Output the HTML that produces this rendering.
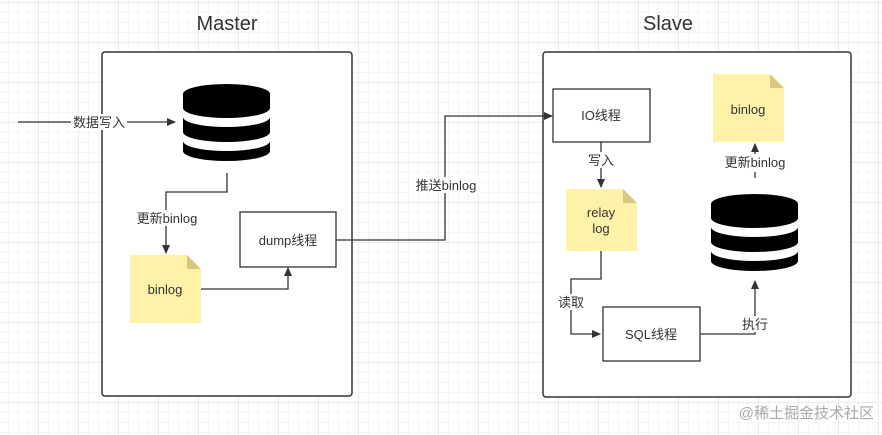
<!DOCTYPE html><html><head><meta charset="utf-8"><style>
html,body{margin:0;padding:0}
body{width:882px;height:430px;overflow:hidden;background:#fff;
background-image:linear-gradient(#ebebeb 1px,transparent 1px),linear-gradient(90deg,#ebebeb 1px,transparent 1px),linear-gradient(#f5f5f5 1px,transparent 1px),linear-gradient(90deg,#f5f5f5 1px,transparent 1px);
background-size:40px 40px,40px 40px,10px 10px,10px 10px;background-position:-2px 2px}
svg text{font-family:"Liberation Sans","Noto Sans CJK SC",sans-serif;fill:#333}
</style></head><body>
<svg width="882" height="430" xmlns="http://www.w3.org/2000/svg">
<defs><marker id="a" markerWidth="10" markerHeight="10" refX="8" refY="5" orient="auto" markerUnits="userSpaceOnUse"><path d="M0,1 L9,5 L0,9 Z" fill="#333"/></marker>
<g id="db"><path d="M0,8 A43.5,10 0 0 1 87,8 V22 A43.5,10 0 0 1 0,22 Z" fill="#000"/><path d="M0,31 A43.5,10 0 0 0 87,31 V46 A43.5,10 0 0 1 0,46 Z" fill="#000"/><path d="M0,55 A43.5,10 0 0 0 87,55 V65 A43.5,10 0 0 1 0,65 Z" fill="#000"/></g></defs>
<text x="227" y="30" font-size="20" text-anchor="middle">Master</text>
<text x="668" y="30" font-size="20" text-anchor="middle">Slave</text>
<rect x="102" y="52" width="250" height="344" rx="3" fill="#fff" stroke="#333" stroke-width="1.5"/>
<rect x="543" y="52" width="308" height="345" rx="3" fill="#fff" stroke="#333" stroke-width="1.5"/>
<use href="#db" x="183" y="86"/>
<use href="#db" x="711" y="196"/>
<g stroke="#333" stroke-width="1.3" fill="none">
<path d="M18,122 H175" marker-end="url(#a)"/>
<path d="M227,173 V192 H166 V253" marker-end="url(#a)"/>
<path d="M201,289 H288 V268" marker-end="url(#a)"/>
<path d="M336,240 H445 V116 H552" marker-end="url(#a)"/>
<path d="M601,142 V187" marker-end="url(#a)"/>
<path d="M601,251 V279 H571 V334 H600" marker-end="url(#a)"/>
<path d="M700,334 H755 V281" marker-end="url(#a)"/>
<path d="M755,178 V144" stroke-dasharray="6,4" marker-end="url(#a)"/>
</g>
<g font-size="13" text-anchor="middle">
<rect x="71" y="114" width="56" height="16" fill="#fff"/><text x="99" y="127">数据写入</text>
<rect x="130" y="210" width="74" height="16" fill="#fff"/><text x="167" y="223">更新binlog</text>
<rect x="410" y="177" width="72" height="16" fill="#fff"/><text x="446" y="190">推送binlog</text>
<rect x="587" y="152" width="28" height="16" fill="#fff"/><text x="601" y="165">写入</text>
<rect x="557" y="294" width="28" height="16" fill="#fff"/><text x="571" y="307">读取</text>
<rect x="741" y="316" width="28" height="16" fill="#fff"/><text x="755" y="329">执行</text>
<rect x="719" y="154" width="72" height="16" fill="#fff"/><text x="755" y="167">更新binlog</text>
</g>
<g fill="#fff" stroke="#333" stroke-width="1.3">
<rect x="240" y="212" width="96" height="55"/><rect x="553" y="89" width="97" height="53"/><rect x="603" y="307" width="97" height="54"/></g>
<g font-size="13" text-anchor="middle"><text x="288" y="245">dump线程</text><text x="601" y="120">IO线程</text><text x="651" y="339">SQL线程</text></g>
<g><path d="M130,255 H187 L201,269 V323 H130 Z" fill="#fff2a8"/><path d="M187,255 L201,269 H187 Z" fill="#d9c77d"/>
<path d="M566,189 H623 L637,203 V251 H566 Z" fill="#fff2a8"/><path d="M623,189 L637,203 H623 Z" fill="#d9c77d"/>
<path d="M713,74 H770 L784,88 V142 H713 Z" fill="#fff2a8"/><path d="M770,74 L784,88 H770 Z" fill="#d9c77d"/></g>
<g font-size="13" text-anchor="middle"><text x="165" y="294">binlog</text><text x="601" y="217">relay</text><text x="601" y="233">log</text><text x="748" y="114">binlog</text></g>
<text x="874" y="418" font-size="15" text-anchor="end" style="fill:#aaa">@稀土掘金技术社区</text>
</svg></body></html>
